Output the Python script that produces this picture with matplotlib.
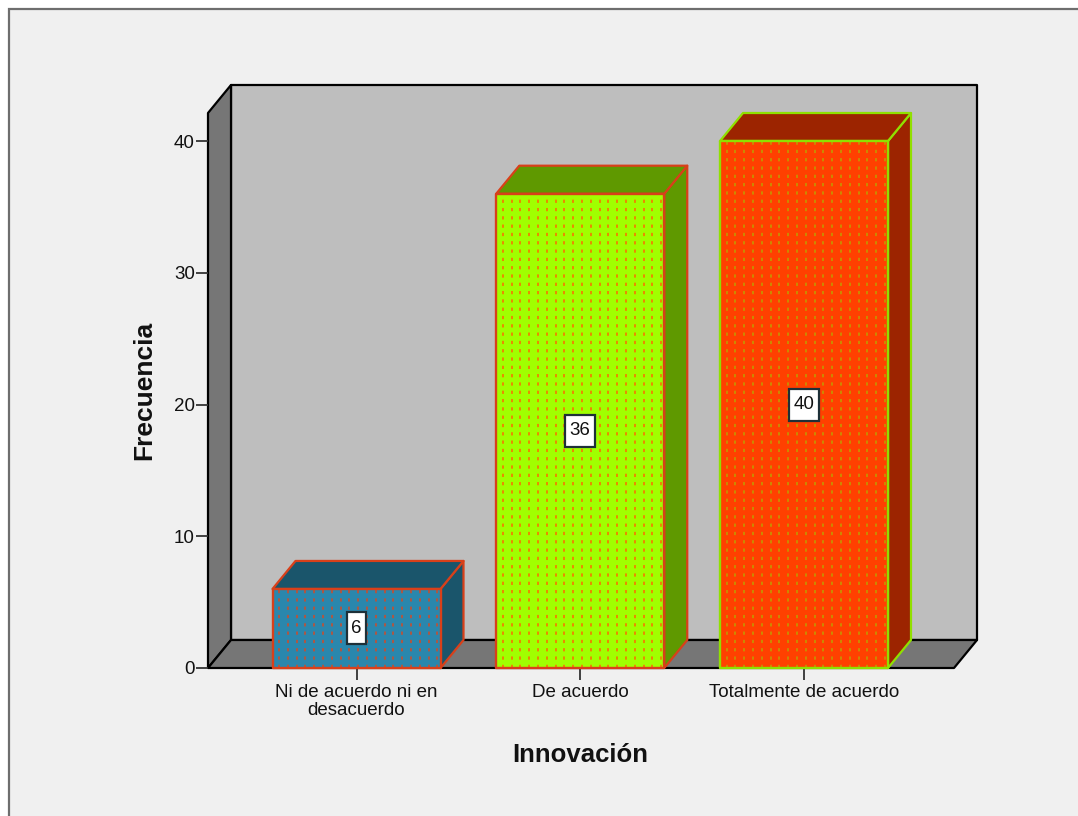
import numpy as np
import matplotlib
matplotlib.use('Agg')
import matplotlib.pyplot as plt
from matplotlib.patches import Polygon, Rectangle

plt.rcParams['font.family'] = ['Liberation Sans', 'DejaVu Sans']

categorias = ['Ni de acuerdo ni en\ndesacuerdo', 'De acuerdo', 'Totalmente de acuerdo']
frecuencias = [6, 36, 40]
ticks_y = [0, 10, 20, 30, 40]

colores = ['#2A87AD', '#A0FF00', '#FF4000']
laterales = ['#1A556B', '#5F9900', '#9C2400']
bordes = ['#D8401A', '#D8401A', '#90E000']
puntos_color = ['#B8543C', '#F08000', '#C89000']

W, H = 1078, 816
fig = plt.figure(figsize=(W / 100, H / 100), dpi=100, facecolor='white')

# marco exterior gris claro
fondo = fig.add_axes([0, 0, 1, 1], zorder=0)
fondo.set_xlim(0, W)
fondo.set_ylim(H, 0)
fondo.axis('off')
fondo.add_patch(Rectangle((8.5, 9), W + 20, H + 20, facecolor='#F0F0F0', edgecolor='#6E6E6E', lw=1.6))

# eje frontal en pixeles de la imagen
izq, der, arriba, abajo = 208, 954, 113, 668
ax = fig.add_axes([izq / W, 1 - abajo / H, (der - izq) / W, (abajo - arriba) / H], zorder=1)
px_x = 223.75
px_y = (668 - 141) / 40
ax.set_xlim((izq - 356.5) / px_x, (der - 356.5) / px_x)
ax.set_ylim(0, (abajo - arriba) / px_y)
ax.patch.set_alpha(0)

dx = 23 / px_x
dy = 28 / px_y
x0, x1 = ax.get_xlim()
y0, y1 = ax.get_ylim()


def cara(puntos, color, borde, lw=1.6, z=1):
    ax.add_patch(Polygon(puntos, closed=True, facecolor=color, edgecolor=borde,
                         lw=lw, zorder=z, clip_on=False, joinstyle='round'))


# paredes de la caja
cara([(x0 + dx, y0 + dy), (x1 + dx, y0 + dy), (x1 + dx, y1 + dy), (x0 + dx, y1 + dy)], '#BEBEBE', 'black')
cara([(x0, y0), (x0 + dx, y0 + dy), (x0 + dx, y1 + dy), (x0, y1)], '#767676', 'black')
cara([(x0, y0), (x1, y0), (x1 + dx, y0 + dy), (x0 + dx, y0 + dy)], '#767676', 'black')

# barras
ancho = 168 / px_x
for i, v in enumerate(frecuencias):
    a, b = i - ancho / 2, i + ancho / 2
    cara([(b, 0), (b + dx, dy), (b + dx, v + dy), (b, v)], laterales[i], bordes[i], z=3)
    cara([(a, v), (b, v), (b + dx, v + dy), (a + dx, v + dy)], laterales[i], bordes[i], z=3)
    # punteado de la cara frontal
    cara([(a, 0), (b, 0), (b, v), (a, v)], colores[i], 'none', z=4)
    columnas = np.arange(a + 6.5 / px_x, b - 2 / px_x, 8.8 / px_x)
    ax.vlines(columnas, 0, v, colors=puntos_color[i], lw=1.3,
              linestyles=[(0, (1.8, 2.8))], zorder=5)
    cara([(a, 0), (b, 0), (b, v), (a, v)], 'none', bordes[i], lw=1.7, z=5.5)
    # etiqueta de valor
    medio_x = (len(str(v)) * 10.4 + 9) / 2 / px_x
    medio_y = 16 / px_y
    ax.add_patch(Rectangle((i - medio_x, v / 2 - medio_y), 2 * medio_x, 2 * medio_y, facecolor='white',
                           edgecolor='#1E3038', lw=1.6, zorder=6))
    ax.text(i, v / 2, str(v), ha='center', va='center', fontsize=13.5, color='#111111', zorder=7)

for lado in ax.spines.values():
    lado.set_visible(False)

ax.set_xticks(range(len(categorias)))
ax.set_xticklabels(categorias, fontsize=13.5, linespacing=1.05, color='#111111')
ax.set_yticks(ticks_y)
ax.set_yticklabels([str(t) for t in ticks_y], fontsize=13.5, color='#111111')
ax.tick_params(axis='x', length=8.5, width=1.3, pad=3, color='#333333')
ax.tick_params(axis='y', length=9, width=1.3, pad=0.5, color='#333333')

fig.text(144 / W, 1 - 390 / H, 'Frecuencia', rotation=90, ha='center', va='center',
         fontsize=19, fontweight='bold', color='#111111')
fig.text(580 / W, 1 - 755 / H, 'Innovación', ha='center', va='center',
         fontsize=18.5, fontweight='bold', color='#111111')

fig.savefig('out.png', dpi=100, facecolor='white')
